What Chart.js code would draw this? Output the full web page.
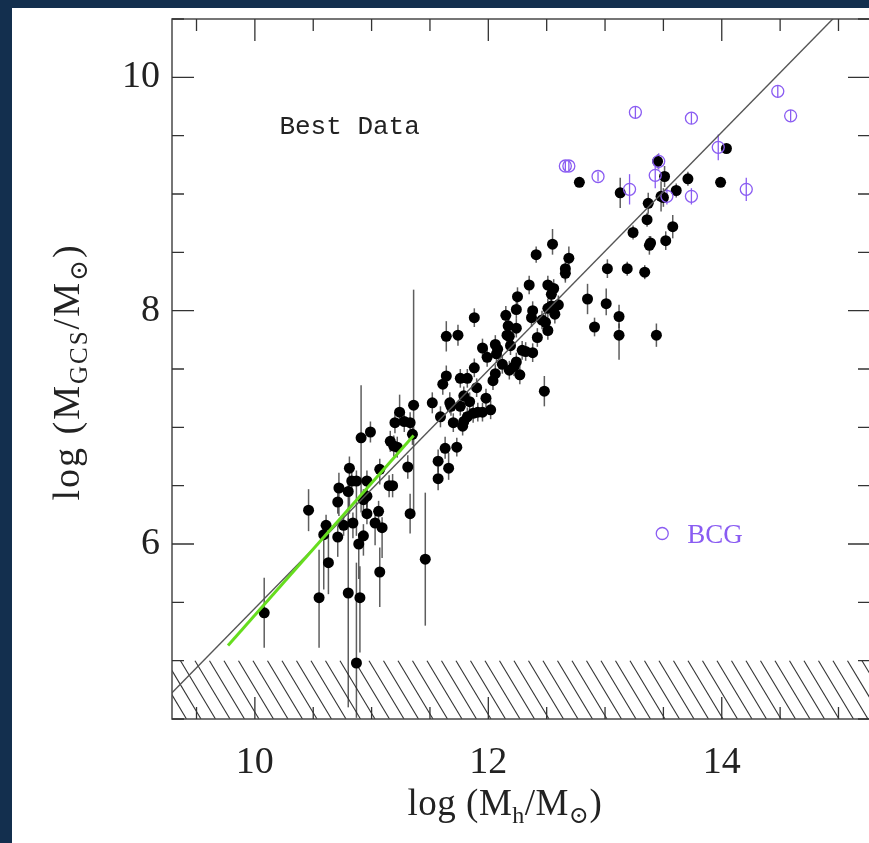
<!DOCTYPE html>
<html lang="en">
<head>
<meta charset="UTF-8">
<title>Best Data</title>
<script src="https://cdn.jsdelivr.net/npm/chart.js"></script>
<style>
    html, body { margin: 0; padding: 0; background: #132f4e; overflow: hidden; }
    #panel { position: absolute; left: 12px; top: 8px; width: 870px; height: 835px; background: #fff; }
    canvas { display: block; }
</style>
</head>
<body>
<div id="panel"><canvas id="chart" width="870" height="835"></canvas></div>
<script>
// axis ticks
const xTicks = [10, 12, 14];
const yTicks = [6, 8, 10];

// galaxies (black points) with lower/upper errors in dex
const galX = [10.08,10.46,10.55,10.63,10.61,10.59,10.71,10.71,10.72,10.80,10.80,10.81,10.83,10.87,10.84,10.76,10.87,10.90,10.89,10.93,
    10.91,10.93,10.96,10.96,10.96,10.99,11.06,11.03,11.09,11.07,11.07,11.15,11.18,11.16,11.19,11.22,11.20,11.24,11.28,11.33,
    11.31,11.35,11.36,11.33,11.46,11.52,11.59,11.64,11.64,11.61,11.67,11.74,11.76,11.82,11.90,11.79,11.84,11.68,11.76,11.98,
    11.91,11.95,12.02,11.70,11.87,11.82,11.79,11.78,11.63,11.73,11.57,11.66,11.57,11.88,11.95,11.99,12.06,12.08,12.07,12.12,
    12.06,12.04,11.88,12.15,12.17,12.24,12.16,12.18,12.19,12.24,12.25,12.29,12.32,12.38,12.24,12.22,12.18,12.27,12.35,12.38,
    12.37,12.42,12.46,12.49,12.51,12.51,12.54,12.60,12.57,12.51,12.56,12.54,12.48,12.41,12.55,12.69,12.66,12.66,12.85,12.91,
    13.01,13.02,13.12,13.12,13.19,13.34,13.24,13.39,13.38,13.52,13.44,13.36,13.37,13.58,13.13,12.78,13.45,13.51,13.48,13.50,
    13.61,13.71,13.99,14.04];
const galY = [5.41,6.29,5.54,5.84,6.16,6.08,6.06,6.36,6.48,6.45,5.58,6.65,6.54,6.54,6.18,6.16,4.98,5.54,6.00,6.07,
    6.91,6.38,6.54,6.41,6.26,6.96,6.28,6.18,6.14,5.76,6.64,6.50,6.50,6.88,6.84,6.83,7.04,7.13,7.05,7.04,
    6.66,6.94,7.19,6.26,5.87,7.21,7.09,7.78,7.44,7.37,7.21,7.79,7.42,7.42,7.34,7.27,7.22,7.18,7.18,7.25,
    7.13,7.13,7.15,7.04,7.12,7.09,7.05,7.01,6.82,6.83,6.71,6.65,6.56,7.51,7.68,7.60,7.71,7.67,7.63,7.54,
    7.46,7.40,7.94,7.96,7.87,7.85,7.79,7.78,7.70,8.01,8.12,7.66,7.65,7.64,7.56,7.52,7.49,7.45,8.22,8.00,
    7.94,7.77,7.92,7.90,7.83,8.02,8.04,8.05,7.97,8.22,8.19,8.14,7.31,8.48,8.57,8.45,8.36,8.32,8.10,7.86,
    8.06,8.36,7.95,7.79,8.36,8.33,8.67,8.58,8.56,8.60,7.79,8.78,8.92,8.72,9.01,9.10,9.28,9.15,8.98,8.97,
    9.03,9.13,9.10,9.39];
const galErrLo = [0.30,0.18,0.43,0.27,0.09,0.47,0.17,0.10,0.24,0.30,0.98,0.39,0.10,0.47,0.13,0.09,0.47,0.47,0.30,0.17,
    0.64,0.09,0.10,0.10,0.09,0.09,0.09,0.19,0.26,0.30,0.13,0.10,0.10,0.09,0.09,0.09,0.09,0.10,0.09,0.09,
    0.10,0.09,0.94,0.17,0.57,0.09,0.09,0.13,0.09,0.09,0.09,0.09,0.08,0.08,0.08,0.08,0.08,0.08,0.08,0.08,
    0.08,0.08,0.08,0.08,0.08,0.08,0.08,0.08,0.09,0.08,0.10,0.10,0.10,0.08,0.08,0.08,0.08,0.08,0.08,0.08,
    0.08,0.08,0.08,0.08,0.08,0.08,0.08,0.08,0.08,0.08,0.08,0.08,0.08,0.08,0.08,0.08,0.08,0.08,0.08,0.08,
    0.08,0.08,0.08,0.08,0.08,0.08,0.08,0.08,0.08,0.08,0.08,0.08,0.13,0.07,0.09,0.09,0.10,0.08,0.13,0.08,
    0.10,0.08,0.10,0.21,0.06,0.06,0.06,0.06,0.08,0.08,0.10,0.06,0.09,0.10,0.13,0.04,0.06,0.09,0.13,0.08,
    0.06,0.06,0.04,0.04];
const galErrHi = [0.30,0.18,0.41,0.23,0.09,0.09,0.10,0.10,0.13,0.09,0.64,0.10,0.10,0.09,0.09,0.09,0.86,0.27,0.09,0.10,
    0.45,0.09,0.09,0.09,0.09,0.09,0.09,0.09,0.09,0.21,0.09,0.09,0.10,0.09,0.09,0.09,0.09,0.15,0.09,0.09,
    0.10,0.09,0.99,0.17,0.57,0.09,0.09,0.13,0.09,0.09,0.09,0.09,0.08,0.08,0.08,0.08,0.08,0.08,0.08,0.08,
    0.08,0.08,0.08,0.08,0.08,0.08,0.08,0.08,0.10,0.08,0.10,0.13,0.10,0.08,0.08,0.08,0.08,0.08,0.08,0.08,
    0.08,0.08,0.08,0.08,0.08,0.08,0.08,0.08,0.08,0.08,0.08,0.08,0.08,0.08,0.08,0.08,0.08,0.08,0.08,0.08,
    0.08,0.08,0.08,0.08,0.08,0.08,0.08,0.08,0.08,0.08,0.08,0.08,0.13,0.07,0.13,0.10,0.10,0.08,0.13,0.08,
    0.13,0.08,0.10,0.10,0.06,0.06,0.06,0.06,0.08,0.08,0.10,0.06,0.09,0.10,0.13,0.04,0.06,0.09,0.13,0.08,
    0.06,0.06,0.04,0.04];

// brightest cluster galaxies (open purple circles)
const bcgX = [12.66,12.69,12.94,13.21,13.26,13.43,13.46,13.53,13.74,13.74,13.97,14.21,14.48,14.59];
const bcgY = [9.24,9.24,9.15,9.04,9.70,9.16,9.28,8.98,9.65,8.98,9.40,9.04,9.88,9.67];
const bcgErr = [0.04,0.04,0.04,0.13,0.05,0.11,0.07,0.07,0.05,0.07,0.11,0.10,0.05,0.05];

// fitted relations
const fitX = [9.0, 15.5];
const fitY = [4.43, 11.06];
const lowX = [9.77, 11.36];
const lowY = [5.13, 6.93];

// detection limit (hatched below)
const hatchTop = 5.0;

const serif = "'Liberation Serif', 'DejaVu Serif', serif";
const purple = '#8a5cf2';

const errorBars = {
    id: 'errorBars',
    beforeDatasetsDraw(chart) {
        const ctx = chart.ctx, ys = chart.scales.y, a = chart.chartArea;
        ctx.save();
        ctx.beginPath();
        ctx.rect(a.left, a.top, a.right - a.left, a.bottom - a.top);
        ctx.clip();
        // hatched region
        const yt = ys.getPixelForValue(hatchTop), yb = a.bottom;
        ctx.strokeStyle = '#333';
        ctx.lineWidth = 1.1;
        const dx = (yb - yt) * 0.6;
        for (let x0 = a.left - dx; x0 < a.right; x0 += 14.5) {
            ctx.beginPath();
            ctx.moveTo(x0, yt);
            ctx.lineTo(x0 + dx, yb);
            ctx.stroke();
        }
        // error bars
        chart.data.datasets.forEach((ds, i) => {
            if (!ds.errLo) return;
            const meta = chart.getDatasetMeta(i);
            ctx.strokeStyle = ds.errColor;
            ctx.lineWidth = ds.errWidth;
            meta.data.forEach((pt, j) => {
                const v = ds.data[j].y;
                ctx.beginPath();
                ctx.moveTo(pt.x, ys.getPixelForValue(v - ds.errLo[j]));
                ctx.lineTo(pt.x, ys.getPixelForValue(v + ds.errHi[j]));
                ctx.stroke();
            });
        });
        ctx.restore();
    }
};

const frame = {
    id: 'frame',
    afterDatasetsDraw(chart) {
        const ctx = chart.ctx, a = chart.chartArea;
        const xs = chart.scales.x, ys = chart.scales.y;
        ctx.save();
        ctx.strokeStyle = '#4a4a4a';
        ctx.lineWidth = 1.5;
        ctx.strokeRect(a.left, a.top, a.right - a.left, a.bottom - a.top);
        ctx.lineWidth = 1.3;
        ctx.strokeStyle = '#333';
        for (let v = Math.ceil(xs.min * 2) / 2; v <= xs.max; v += 0.5) {
            const p = xs.getPixelForValue(v), len = v % 2 === 0 ? 22 : 12;
            ctx.beginPath();
            ctx.moveTo(p, a.top); ctx.lineTo(p, a.top + len);
            ctx.moveTo(p, a.bottom); ctx.lineTo(p, a.bottom - len);
            ctx.stroke();
        }
        for (let v = Math.ceil(ys.min * 2) / 2; v <= ys.max; v += 0.5) {
            const p = ys.getPixelForValue(v), len = v % 2 === 0 ? 22 : 12;
            ctx.beginPath();
            ctx.moveTo(a.left, p); ctx.lineTo(a.left + len, p);
            ctx.moveTo(a.right, p); ctx.lineTo(a.right - len, p);
            ctx.stroke();
        }
        ctx.restore();
    }
};

function drawParts(ctx, parts, size, x, y, spacing) {
    const subSize = Math.round(size * 0.66);
    ctx.letterSpacing = spacing + 'px';
    let w = 0;
    parts.forEach(p => {
        ctx.font = (p.sub ? subSize : size) + 'px ' + serif;
        p.w = ctx.measureText(p.t).width;
        w += p.w;
    });
    let cx = x - w / 2;
    parts.forEach(p => {
        ctx.font = (p.sub ? subSize : size) + 'px ' + serif;
        ctx.fillText(p.t, cx, p.sub ? y + size * 0.22 : y);
        cx += p.w;
    });
    ctx.letterSpacing = '0px';
}

const labels = {
    id: 'labels',
    afterDraw(chart) {
        const ctx = chart.ctx, xs = chart.scales.x, ys = chart.scales.y;
        ctx.save();
        ctx.fillStyle = '#222';
        ctx.textBaseline = 'alphabetic';
        ctx.textAlign = 'left';
        drawParts(ctx, [{t: 'log (M'}, {t: 'h', sub: true}, {t: '/M'}, {t: '\u2299', sub: true}, {t: ')'}], 37, 493, 807, 0.5);
        ctx.save();
        ctx.translate(67, 364);
        ctx.rotate(-Math.PI / 2);
        drawParts(ctx, [{t: 'log (M'}, {t: 'GCS', sub: true}, {t: '/M'}, {t: '\u2299', sub: true}, {t: ')'}], 38, 0, 0, 2);
        ctx.restore();

        // annotation
        ctx.font = "26px 'Liberation Mono', monospace";
        ctx.textBaseline = 'middle';
        ctx.fillText('Best Data', xs.getPixelForValue(10.21), ys.getPixelForValue(9.57));

        // legend for BCG
        const lx = xs.getPixelForValue(13.49), ly = ys.getPixelForValue(6.09);
        ctx.strokeStyle = purple;
        ctx.lineWidth = 1.3;
        ctx.beginPath();
        ctx.arc(lx, ly, 6, 0, Math.PI * 2);
        ctx.stroke();
        ctx.fillStyle = purple;
        ctx.font = '27px ' + serif;
        ctx.fillText('BCG', lx + 25, ly + 2);
        ctx.restore();
    }
};

const toPts = (xs, ys) => xs.map((x, i) => ({x: x, y: ys[i]}));

new Chart(document.getElementById('chart'), {
    type: 'scatter',
    data: {
        datasets: [
            {
                label: 'low-mass fit',
                data: toPts(lowX, lowY),
                showLine: true,
                borderColor: '#66dd1e',
                borderWidth: 3,
                pointRadius: 0
            },
            {
                label: 'fit',
                data: toPts(fitX, fitY),
                showLine: true,
                borderColor: '#555',
                borderWidth: 1.4,
                pointRadius: 0
            },
            {
                label: 'BCG',
                data: toPts(bcgX, bcgY),
                pointRadius: 6,
                pointBackgroundColor: 'rgba(0,0,0,0)',
                pointBorderColor: purple,
                pointBorderWidth: 1.3,
                errLo: bcgErr,
                errHi: bcgErr,
                errColor: purple,
                errWidth: 1.3
            },
            {
                label: 'Best Data',
                data: toPts(galX, galY),
                pointRadius: 5.5,
                pointBackgroundColor: '#000',
                pointBorderColor: '#000',
                pointBorderWidth: 0,
                errLo: galErrLo,
                errHi: galErrHi,
                errColor: 'rgba(40,40,40,0.75)',
                errWidth: 1.5
            }
        ]
    },
    options: {
        responsive: false,
        animation: false,
        layout: { padding: { top: 11, right: 12, left: 0, bottom: 0 } },
        plugins: { legend: { display: false }, tooltip: { enabled: false } },
        scales: {
            x: {
                type: 'linear',
                min: 9.29,
                max: 15.27,
                afterBuildTicks: s => { s.ticks = xTicks.map(v => ({value: v})); },
                afterFit: s => { s.height = 124; s.paddingLeft = 0; s.paddingRight = 0; },
                grid: { display: false, drawTicks: false },
                border: { display: false },
                ticks: { autoSkip: false, maxRotation: 0, padding: 21, color: '#222', font: { family: serif, size: 38 } }
            },
            y: {
                type: 'linear',
                min: 4.5,
                max: 10.5,
                afterBuildTicks: s => { s.ticks = yTicks.map(v => ({value: v})); },
                afterFit: s => { s.width = 160; s.paddingTop = 0; s.paddingBottom = 0; },
                grid: { display: false, drawTicks: false },
                border: { display: false },
                ticks: { autoSkip: false, padding: 12, color: '#222', font: { family: serif, size: 38 } }
            }
        }
    },
    plugins: [errorBars, frame, labels]
});
</script>
</body>
</html>
